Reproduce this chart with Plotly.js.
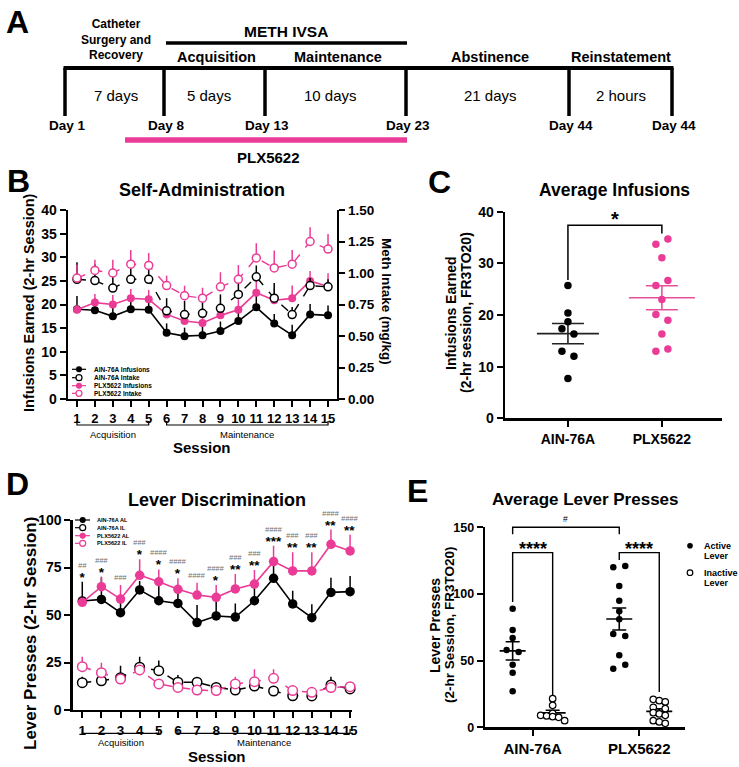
<!DOCTYPE html>
<html><head><meta charset="utf-8">
<script src="https://cdn.plot.ly/plotly-3.0.1.min.js"></script>
<style>html,body{margin:0;padding:0;background:#fff}#chart{width:739px;height:767px}</style>
</head><body><div id="chart"></div>
<script>
// ================= DATA =================
// Panel A (timeline)
const tlDays = ['Day 1','Day 8','Day 13','Day 23','Day 44','Day 44'];
const tlDurations = ['7 days','5 days','10 days','21 days','2 hours'];
const tlPhases = ['Catheter<br>Surgery and<br>Recovery','Acquisition','Maintenance','Abstinence','Reinstatement'];
const tlMeth = 'METH IVSA';
const tlDrug = 'PLX5622';

// Panel B (self-administration)
const sessions = [1,2,3,4,5,6,7,8,9,10,11,12,13,14,15];
const phaseNames = ['Acquisition','Maintenance'];
const phaseFirst = [1, 6];
const phaseLast = [5, 15];
const ainInfusions    = [19.0,18.8,17.5,19.0,18.9,14.0,13.3,13.5,14.4,16.5,19.4,16.0,13.5,17.9,17.7];
const ainInfusionsSem = [2.8,2.5,2.5,2.5,2.5,2.0,1.8,2.0,2.0,2.0,2.5,2.0,2.2,2.2,2.1];
const plxInfusions    = [18.9,20.4,20.0,21.3,21.1,17.9,16.5,16.1,17.7,18.9,22.5,20.9,21.3,25.0,23.8];
const plxInfusionsSem = [1.0,1.8,2.0,2.0,2.0,1.8,1.8,1.8,2.0,2.2,2.7,2.5,2.7,2.1,2.8];
const ainIntake       = [0.95,0.94,0.88,0.95,0.95,0.70,0.67,0.68,0.72,0.83,0.97,0.80,0.67,0.90,0.89];
const ainIntakeSem    = [0.135,0.13,0.13,0.11,0.14,0.10,0.11,0.10,0.11,0.09,0.09,0.12,0.06,0.06,0.06];
const plxIntake       = [0.96,1.02,1.00,1.07,1.06,0.90,0.82,0.80,0.89,0.95,1.12,1.04,1.07,1.25,1.19];
const plxIntakeSem    = [0.105,0.086,0.105,0.113,0.098,0.079,0.079,0.083,0.116,0.113,0.116,0.139,0.113,0.113,0.12];
const bSeriesNames = ['AIN-76A Infusions','AIN-76A Intake','PLX5622 Infusions','PLX5622 Intake'];

// Panel C (average infusions)
const cGroups = ['AIN-76A','PLX5622'];
const cAin = [25.7,20.4,18.7,17.35,16.3,13.0,12.0,7.7];
const cPlx = [33.7,34.7,31.1,25.7,26.7,23.0,20.1,19.0,16.3,13.0,13.4];
const cSig = '*';

// Panel D (lever discrimination)
const ainAL    = [57.4,58.2,51.2,63.2,57.5,56.1,46.0,49.5,48.9,57.5,69.3,55.8,48.6,61.9,62.3];
const ainALSem = [10.1,11.5,8.0,4.7,8.0,9.0,9.3,9.3,7.2,8.0,9.0,7.0,7.0,7.7,8.2];
const plxAL    = [56.7,64.9,58.4,70.9,67.5,63.5,60.5,59.3,63.7,66.3,78.1,73.2,73.2,87.2,83.7];
const plxALSem = [0.8,5.3,7.4,8.4,6.5,5.8,6.5,6.5,7.9,7.4,8.4,9.8,9.8,7.8,8.6];
const ainIL    = [14.4,15.4,17.0,22.5,20.7,14.6,14.6,11.9,10.5,12.6,10.0,7.5,7.4,13.2,11.1];
const ainILSem = [3.1,3.9,6.3,5.5,5.3,3.8,2.0,2.7,1.0,1.0,0.8,0.8,0.8,4.3,1.0];
const plxIL    = [22.8,19.6,16.3,21.1,13.7,11.9,10.5,10.2,13.7,14.9,16.7,10.2,9.3,11.8,12.3];
const plxILSem = [5.2,5.3,1.5,2.0,1.5,1.0,1.0,1.0,3.8,6.5,4.7,1.0,1.0,1.0,1.0];
const dStars  = ['*','*','','*','*','*','','*','**','**','***','**','**','**','**'];
const dHashes = ['##','###','###','###','####','####','####','####','###','###','####','###','###','####','####'];
const dSeriesNames = ['AIN-76A AL','AIN-76A IL','PLX5622 AL','PLX5622 IL'];

// Panel E (average lever presses)
const eGroups = ['AIN-76A','PLX5622'];
const eAinActive   = [89,73,67,58,56.5,47,41,27];
const eAinInactive = [21.5,16.5,10.5,9,8.5,8,7.5,5];
const ePlxActive   = [120,121,106,95,87,81,70,68.5,54,44,47];
const ePlxInactive = [21,20,19,15,14,11,10,9,5,4,3];
const eLeverNames = ['Active<br>Lever','Inactive<br>Lever'];
const eSigWithin = '****';
const eSigBetween = '#';

// ================= LAYOUT HELPERS =================
const W = 739, H = 767;
const PX = x => x / W, PY = y => 1 - y / H;
const FONT = '"Liberation Sans", Arial, Helvetica, sans-serif';
const PINK = '#ea3c96', BLACK = '#000000', GREY = '#707070';

function axisStyle(size, extra) {
  return Object.assign({
    showline: true, linecolor: BLACK, linewidth: 2.4, ticks: 'outside', ticklen: 6, tickwidth: 2,
    tickcolor: BLACK, showgrid: false, zeroline: false, fixedrange: true,
    tickfont: {family: FONT, size: size, color: BLACK, weight: 'bold'}
  }, extra);
}
const xB  = axisStyle(13, {domain: [PX(68), PX(337)], range: [0.5, 15.5], anchor: 'y', tickvals: sessions});
const yB  = axisStyle(14, {domain: [PY(399), PY(210)], range: [0, 40], dtick: 5, tick0: 0, anchor: 'x'});
const yB2 = axisStyle(13.5, {overlaying: 'y', side: 'right', anchor: 'x', range: [0, 1.5], dtick: 0.25, tick0: 0, tickformat: '.2f'});
const xC  = axisStyle(14, {domain: [PX(505), PX(722)], range: [-0.67, 1.64], anchor: 'y3', tickvals: [0, 1], ticktext: cGroups});
const yC  = axisStyle(14, {domain: [PY(418.3), PY(211.7)], range: [0, 40], dtick: 10, tick0: 0, anchor: 'x3'});
const xD  = axisStyle(13.5, {domain: [PX(72.7), PX(352)], range: [0.5, 15.1], anchor: 'y4', tickvals: sessions});
const yD  = axisStyle(14, {domain: [PY(710), PY(520)], range: [0, 100], dtick: 25, tick0: 0, anchor: 'x4'});
const xE  = axisStyle(15, {domain: [PX(485), PX(685)], range: [-0.447, 1.429], anchor: 'y5', tickvals: [0, 1], ticktext: eGroups});
const yE  = axisStyle(12.5, {domain: [PY(727.3), PY(527.3)], range: [0, 150], dtick: 50, tick0: 0, anchor: 'x5'});

const xPaper = (a, v) => a.domain[0] + (v - a.range[0]) / (a.range[1] - a.range[0]) * (a.domain[1] - a.domain[0]);
const yPaper = (a, v) => a.domain[0] + (v - a.range[0]) / (a.range[1] - a.range[0]) * (a.domain[1] - a.domain[0]);
const pxuX = a => (a.domain[1] - a.domain[0]) * W / (a.range[1] - a.range[0]);
const pxuY = a => (a.domain[1] - a.domain[0]) * H / (a.range[1] - a.range[0]);

const shapes = [], annotations = [];
function txt(x, y, text, size, weight, color, extra) {
  annotations.push(Object.assign({xref: 'paper', yref: 'paper', x: PX(x), y: PY(y), text: text, showarrow: false,
    xanchor: 'center', yanchor: 'middle', font: {family: FONT, size: size, color: color || BLACK, weight: weight || 'bold'}}, extra || {}));
}
function ann(xp, yp, text, size, weight, color, extra) {
  annotations.push(Object.assign({xref: 'paper', yref: 'paper', x: xp, y: yp, text: text, showarrow: false,
    xanchor: 'center', yanchor: 'middle', font: {family: FONT, size: size, color: color || BLACK, weight: weight || 'bold'}}, extra || {}));
}
function pline(x0, y0, x1, y1, width, color) {
  shapes.push({type: 'line', xref: 'paper', yref: 'paper', x0: PX(x0), y0: PY(y0), x1: PX(x1), y1: PY(y1), line: {color: color, width: width}});
}
function ppath(pts, width, color) {
  const d = pts.map((p, i) => (i ? 'L' : 'M') + p[0] + ',' + p[1]).join(' ');
  shapes.push({type: 'path', xref: 'paper', yref: 'paper', path: d, line: {color: color || BLACK, width: width}});
}
function legendItem(xl0, xl1, xm, y, r, color, open, dash, label, tx, fsize, lw) {
  if (xl1 > xl0) shapes.push({type: 'line', xref: 'paper', yref: 'paper', x0: PX(xl0), x1: PX(xl1), y0: PY(y), y1: PY(y),
    line: {color: color, width: lw || 1.2, dash: dash ? 'dash' : 'solid'}});
  shapes.push({type: 'circle', xref: 'paper', yref: 'paper', xsizemode: 'pixel', ysizemode: 'pixel',
    xanchor: PX(xm), yanchor: PY(y), x0: -r, x1: r, y0: -r, y1: r,
    fillcolor: open ? '#ffffff' : color, line: {color: color, width: open ? 1.2 : 0.1}});
  annotations.push({xref: 'paper', yref: 'paper', x: PX(tx), y: PY(y), text: label, showarrow: false, xanchor: 'left', yanchor: 'middle',
    align: 'left', font: {family: FONT, size: fsize, color: BLACK, weight: 'bold'}});
}

// GraphPad-style row layout of scatter dots, in pixels
function swarm(vals, pxPerUnit, thrPx, stepPx) {
  const idx = vals.map((v, i) => i).sort((a, b) => vals[a] - vals[b]);
  const rows = []; let cur = null;
  idx.forEach(i => {
    if (cur && (vals[i] - vals[cur[0]]) * pxPerUnit < thrPx) cur.push(i); else { cur = [i]; rows.push(cur); }
  });
  const off = vals.map(() => 0);
  rows.forEach(r => {
    r.sort((a, b) => a - b); const n = r.length;
    r.forEach((i, k) => {
      let o;
      if (n % 2) o = (k - (n - 1) / 2) * stepPx;
      else { const h = n / 2; o = k < h ? (k - h) * stepPx : (k - h + 1) * stepPx; }
      off[i] = o;
    });
  });
  return off;
}
const mean = v => v.reduce((a, b) => a + b, 0) / v.length;
const sem = v => { const m = mean(v); return Math.sqrt(v.reduce((a, b) => a + (b - m) * (b - m), 0) / (v.length - 1)) / Math.sqrt(v.length); };

const traces = [];
function seriesTrace(y, err, color, open, dash, xa, ya, name, msize, lw) {
  return {type: 'scatter', mode: 'lines+markers', x: sessions, y: y, xaxis: xa, yaxis: ya, name: name,
    line: {color: color, width: lw, dash: dash ? 'dash' : 'solid'},
    marker: {size: msize, color: open ? '#ffffff' : color, line: {color: color, width: open ? 1.5 : 0}, symbol: 'circle'},
    error_y: {type: 'data', symmetric: false, array: err, arrayminus: err.map(() => 0), color: color, thickness: 1.5, width: 0},
    cliponaxis: false, hoverinfo: 'skip'};
}
function dotsTrace(vals, center, axX, axY, xa, ya, color, open, size) {
  const off = swarm(vals, pxuY(axY), 6.5, 6);
  const u = pxuX(axX);
  return {type: 'scatter', mode: 'markers', x: vals.map((v, i) => center + off[i] / u), y: vals, xaxis: xa, yaxis: ya,
    marker: {size: size, color: open ? '#ffffff' : color, line: {color: color, width: open ? 1.2 : 0}}, cliponaxis: false, hoverinfo: 'skip'};
}
function meanSemTrace(vals, center, axX, xa, ya, color, halfMeanPx, halfCapPx) {
  const m = mean(vals), s = sem(vals), u = pxuX(axX);
  const hm = halfMeanPx / u, hc = halfCapPx / u;
  return {type: 'scatter', mode: 'lines', xaxis: xa, yaxis: ya, line: {color: color, width: 1.6}, cliponaxis: false, hoverinfo: 'skip',
    x: [center - hm, center + hm, null, center - hc, center + hc, null, center - hc, center + hc, null, center, center],
    y: [m, m, null, m + s, m + s, null, m - s, m - s, null, m - s, m + s]};
}

// ================= PANEL A =================
const tlX = [65, 164, 265, 406, 569, 672];
txt(17, 22, 'A', 32);
pline(tlX[0] - 1.5, 68, tlX[5] + 1.5, 68, 4, BLACK);
tlX.forEach(x => pline(x, 68, x, 116, 3.5, BLACK));
pline(tlX[1] + 2, 43, tlX[3] + 1, 43, 3.5, BLACK);
pline(125, 140, tlX[3] + 1, 140, 5.5, PINK);
txt(116, 40, tlPhases[0], 12);
txt(286, 32, tlMeth, 15.5);
const phaseCx = [116, 216, 338, 490, 621];
for (let i = 1; i < 5; i++) txt(phaseCx[i], 57, tlPhases[i], 14.5);
const durCx = [116, 209, 330, 490, 621];
tlDurations.forEach((t, i) => txt(durCx[i], 96, t, 15, 'normal'));
tlDays.forEach((t, i) => txt(tlX[i] + 2, 125, t, 13.5));
txt(268, 157, tlDrug, 15);

// ================= PANEL B =================
txt(18, 181, 'B', 32);
txt(202, 190, 'Self-Administration', 18);
txt(29, 303, 'Infusions Earned (2-hr Session)', 14.5, 'bold', BLACK, {textangle: -90});
txt(387, 301, 'Meth Intake (mg/kg)', 13.5, 'bold', BLACK, {textangle: 90});
traces.push(seriesTrace(ainInfusions, ainInfusionsSem, BLACK, false, false, 'x', 'y', bSeriesNames[0], 8, 1.6));
traces.push(seriesTrace(plxInfusions, plxInfusionsSem, PINK, false, false, 'x', 'y', bSeriesNames[2], 8, 1.6));
traces.push(seriesTrace(ainIntake, ainIntakeSem, BLACK, true, true, 'x', 'y2', bSeriesNames[1], 8, 1.4));
traces.push(seriesTrace(plxIntake, plxIntakeSem, PINK, true, true, 'x', 'y2', bSeriesNames[3], 8, 1.4));
phaseNames.forEach((p, i) => {
  const x0 = xPaper(xB, phaseFirst[i]), x1 = xPaper(xB, phaseLast[i]);
  ppath([[x0, PY(421)], [x0, PY(425)], [x1, PY(425)], [x1, PY(421)]], 1.2);
  ann((x0 + x1) / 2, PY(434), p, 9.5, 'normal');
});
txt(202, 447, 'Session', 15);
const bLegY = [369.3, 377.7, 385.7, 393.3];
legendItem(72, 86, 79, bLegY[0], 3, BLACK, false, false, bSeriesNames[0], 92, 6.5);
legendItem(72, 86, 79, bLegY[1], 3, BLACK, true, true, bSeriesNames[1], 92, 6.5);
legendItem(72, 86, 79, bLegY[2], 3, PINK, false, false, bSeriesNames[2], 92, 6.5);
legendItem(72, 86, 79, bLegY[3], 3, PINK, true, true, bSeriesNames[3], 92, 6.5);

// ================= PANEL C =================
txt(440, 182, 'C', 32);
txt(614, 190, 'Average Infusions', 17.5);
txt(451, 313, 'Infusions Earned', 14, 'bold', BLACK, {textangle: -90});
txt(466, 313, '(2-hr session, FR3TO20)', 14, 'bold', BLACK, {textangle: -90});
traces.push(meanSemTrace(cAin, 0, xC, 'x3', 'y3', '#222222', 31, 16));
traces.push(meanSemTrace(cPlx, 1, xC, 'x3', 'y3', '#e6509f', 33, 16));
traces.push(dotsTrace(cAin, 0, xC, yC, 'x3', 'y3', BLACK, false, 7.5));
traces.push(dotsTrace(cPlx, 1, xC, yC, 'x3', 'y3', PINK, false, 7.5));
(function () {
  const x0 = xPaper(xC, 0), x1 = xPaper(xC, 1);
  const top = Math.max(...cAin, ...cPlx) + 2.7;
  const yt = yPaper(yC, top);
  ppath([[x0, yPaper(yC, Math.max(...cAin) + 1.1)], [x0, yt], [x1, yt], [x1, yPaper(yC, Math.max(...cPlx) + 1.1)]], 1.5);
  ann((x0 + x1) / 2, yt, cSig, 20, 'bold', BLACK, {yshift: 6.4});
})();

// ================= PANEL D =================
txt(17, 484, 'D', 32);
txt(217, 500, 'Lever Discrimination', 18);
txt(30, 634, 'Lever Presses (2-hr Session)', 17, 'bold', BLACK, {textangle: -90});
traces.push(seriesTrace(ainIL, ainILSem, BLACK, true, true, 'x4', 'y4', dSeriesNames[1], 9.5, 1.5));
traces.push(seriesTrace(plxIL, plxILSem, PINK, true, true, 'x4', 'y4', dSeriesNames[3], 9.5, 1.5));
traces.push(seriesTrace(ainAL, ainALSem, BLACK, false, false, 'x4', 'y4', dSeriesNames[0], 9.5, 1.6));
traces.push(seriesTrace(plxAL, plxALSem, PINK, false, false, 'x4', 'y4', dSeriesNames[2], 9.5, 1.6));
sessions.forEach((s, i) => {
  const top = Math.max(ainAL[i] + ainALSem[i], plxAL[i] + plxALSem[i]);
  const xp = xPaper(xD, s), yp = yPaper(yD, top);
  const hash = '<span style="font-size:7.5px;color:' + GREY + ';font-weight:normal"><i>' + dHashes[i] + '</i></span>';
  if (dStars[i]) {
    // hash marks and stars stacked in one label (base size sets the line spacing)
    ann(xp, yp, hash + '<br><span style="font-size:13.5px;font-weight:bold">' + dStars[i] + '</span>', 11, 'bold', BLACK,
      {yanchor: 'bottom', yshift: -4, borderpad: 0});
  } else {
    ann(xp, yp, '<i>' + dHashes[i] + '</i>', 7.5, 'normal', GREY, {yshift: 7, borderpad: 0});
  }
});
phaseNames.forEach((p, i) => {
  const x0 = xPaper(xD, phaseFirst[i]), x1 = xPaper(xD, phaseLast[i]);
  ppath([[x0, PY(729)], [x0, PY(733.3)], [x1, PY(733.3)], [x1, PY(729)]], 1.2);
  ann((x0 + x1) / 2, PY(742.7), p, 9.5, 'normal');
});
txt(217, 756.5, 'Session', 15);
const dLegY = [520, 527.7, 535.7, 543.3];
legendItem(75, 90, 82.7, dLegY[0], 3, BLACK, false, false, dSeriesNames[0], 95, 5.6);
legendItem(75, 90, 82.7, dLegY[1], 3, BLACK, true, true, dSeriesNames[1], 95, 5.6);
legendItem(75, 90, 82.7, dLegY[2], 3, PINK, false, false, dSeriesNames[2], 95, 5.6);
legendItem(75, 90, 82.7, dLegY[3], 3, PINK, true, true, dSeriesNames[3], 95, 5.6);

// ================= PANEL E =================
txt(418, 491, 'E', 32);
txt(585, 499, 'Average Lever Presses', 17);
txt(435, 625, 'Lever Presses', 14, 'bold', BLACK, {textangle: -90});
txt(449, 625, '(2-hr Session, FR3TO20)', 13.5, 'bold', BLACK, {textangle: -90});
const leverOff = 20 / pxuX(xE);
const eSets = [
  [eAinActive, 0 - leverOff, false], [eAinInactive, 0 + leverOff, true],
  [ePlxActive, 1 - leverOff, false], [ePlxInactive, 1 + leverOff, true]
];
eSets.forEach(([vals, c, open]) => traces.push(meanSemTrace(vals, c, xE, 'x5', 'y5', BLACK, 13, 7)));
eSets.forEach(([vals, c, open]) => traces.push(dotsTrace(vals, c, xE, yE, 'x5', 'y5', BLACK, open, 6.5)));
(function () {
  const xa0 = xPaper(xE, -leverOff), xi0 = xPaper(xE, leverOff);
  const xa1 = xPaper(xE, 1 - leverOff), xi1 = xPaper(xE, 1 + leverOff);
  const yIn = yPaper(yE, 131);
  ppath([[xa0, yPaper(yE, Math.max(...eAinActive) + 5)], [xa0, yIn], [xi0, yIn], [xi0, yPaper(yE, Math.max(...eAinInactive) + 2)]], 1.4);
  ppath([[xa1, yPaper(yE, Math.max(...ePlxActive) + 4.5)], [xa1, yIn], [xi1, yIn], [xi1, yPaper(yE, Math.max(...ePlxInactive) + 5.5)]], 1.4);
  ann((xa0 + xi0) / 2, yIn, eSigWithin, 18, 'bold', BLACK, {yshift: 3.8});
  ann((xa1 + xi1) / 2, yIn, eSigWithin, 18, 'bold', BLACK, {yshift: 3.8});
  const yTop = yPaper(yE, 150);
  ppath([[xa0, yPaper(yE, 144.8)], [xa0, yTop], [xa1, yTop], [xa1, yPaper(yE, 144.8)]], 1.4);
  ann((xa0 + xa1) / 2, yTop, eSigBetween, 8.5, 'normal', BLACK, {yshift: 8});
})();
legendItem(0, 0, 690, 545.7, 2.8, BLACK, false, false, eLeverNames[0].split('<br>')[0], 702, 9);
txt(702, 556, eLeverNames[0].split('<br>')[1], 9, 'bold', BLACK, {xanchor: 'left'});
legendItem(0, 0, 690, 572.7, 2.8, BLACK, true, false, eLeverNames[1].split('<br>')[0], 702, 9);
txt(702, 583.3, eLeverNames[1].split('<br>')[1], 9, 'bold', BLACK, {xanchor: 'left'});

// ================= RENDER =================
const layout = {
  width: W, height: H, margin: {l: 0, r: 0, t: 0, b: 0}, paper_bgcolor: '#ffffff', plot_bgcolor: 'rgba(0,0,0,0)',
  showlegend: false, font: {family: FONT, color: BLACK},
  xaxis: xB, yaxis: yB, yaxis2: yB2, xaxis3: xC, yaxis3: yC, xaxis4: xD, yaxis4: yD, xaxis5: xE, yaxis5: yE,
  shapes: shapes, annotations: annotations
};
Plotly.newPlot('chart', traces, layout, {staticPlot: true, displayModeBar: false});
</script>
</body></html>
